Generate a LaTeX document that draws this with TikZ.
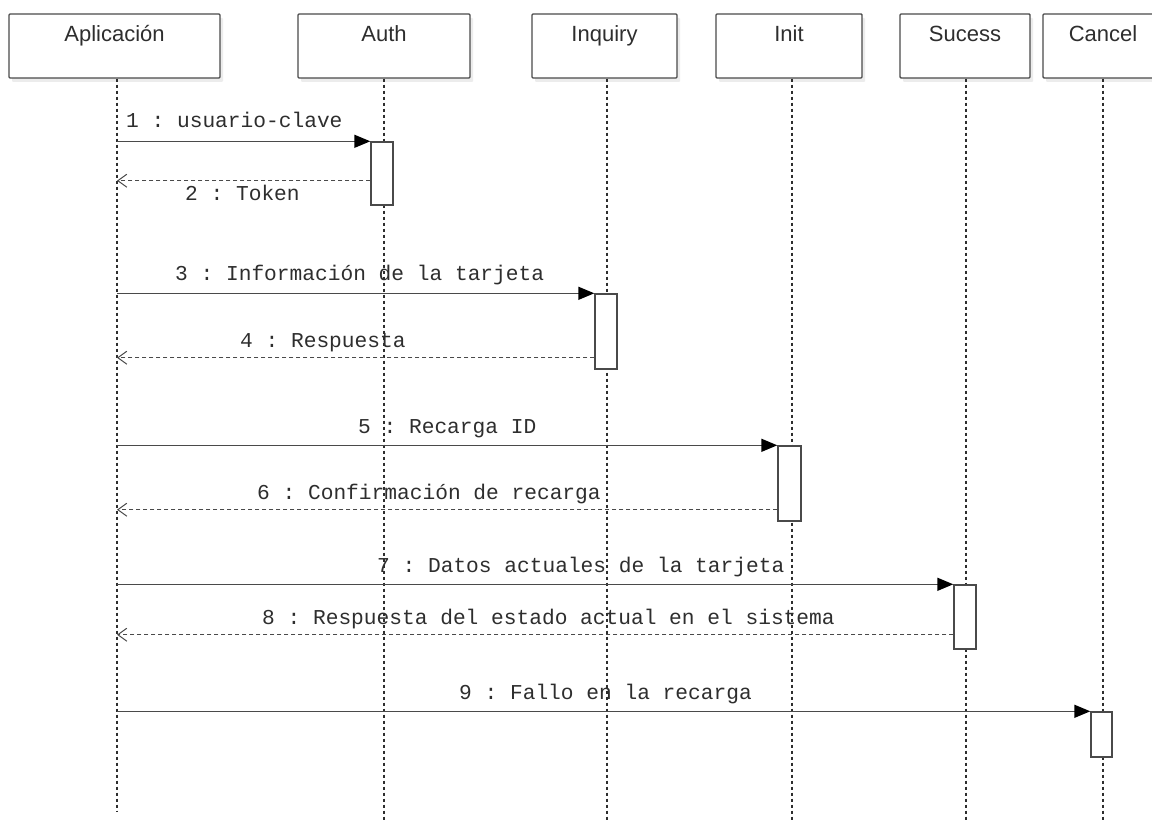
\documentclass[tikz,border=0pt]{standalone}
\usepackage{fontspec}
\setmainfont{Liberation Sans}
\newfontfamily\msgfont{Liberation Mono}
\usetikzlibrary{arrows.meta,shadows,calc}
\definecolor{edge}{HTML}{4A4A4A}
\definecolor{ink}{HTML}{2E2E2E}
\frenchspacing
\begin{document}
\begin{tikzpicture}[x=1pt,y=-1pt,
  head/.style={draw=edge, line width=1.4pt, fill=white, rounded corners=1pt,
    minimum height=64pt, inner sep=0pt,
    drop shadow={shadow xshift=3pt, shadow yshift=-4pt, opacity=0.15}},
  headname/.style={anchor=base, inner sep=0pt, text=ink,
    font=\fontsize{22}{22}\selectfont, yshift=-28pt},
  life/.style={draw=ink, line width=1.2pt, dash pattern=on 3pt off 3pt},
  act/.style={draw=edge, fill=white, line width=1.4pt, inner sep=0pt},
  call/.style={draw=edge, line width=1.5pt,
    -{Triangle[length=16pt, width=13pt, fill=black, color=black]}},
  reply/.style={draw=edge, line width=1.2pt, dash pattern=on 4pt off 3pt,
    -{Straight Barb[length=9pt, width=13pt, line width=1pt]}},
  msglabel/.style={anchor=base west, inner sep=0pt, text=ink,
    font=\msgfont\fontsize{21.2}{21.2}\selectfont}
]
\useasboundingbox (0,0) rectangle (1152,821);
\clip (0,0) rectangle (1152,821);
\fill[white] (0,0) rectangle (1152,821);

% participants
\node[head, minimum width=211pt, label={[headname]north:Aplicación}] (app)  at (114.5,46) {};
\node[head, minimum width=172pt, label={[headname]north:Auth}]       (auth) at (384,46) {};
\node[head, minimum width=145pt, label={[headname]north:Inquiry}]    (inq)  at (604.5,46) {};
\node[head, minimum width=146pt, label={[headname]north:Init}]       (init) at (789,46) {};
\node[head, minimum width=130pt, label={[headname]north:Sucess}]     (suc)  at (965,46) {};
\node[head, minimum width=120pt, label={[headname]north:Cancel}]     (can)  at (1103,46) {};

% lifeline ends
\coordinate (appEnd)  at (117,812);
\coordinate (authEnd) at (384,821);
\coordinate (inqEnd)  at (607,821);
\coordinate (initEnd) at (792,821);
\coordinate (sucEnd)  at (966,821);
\coordinate (canEnd)  at (1103,821);

\draw[life] (app.south -| appEnd)   -- (appEnd);
\draw[life] (auth.south -| authEnd) -- (authEnd);
\draw[life] (inq.south -| inqEnd)   -- (inqEnd);
\draw[life] (init.south -| initEnd) -- (initEnd);
\draw[life] (suc.south -| sucEnd)   -- (sucEnd);
\draw[life] (can.south -| canEnd)   -- (canEnd);

% activation bars
\node[act, minimum width=22pt, minimum height=63pt] (a1) at (382,173.5) {};
\node[act, minimum width=22pt, minimum height=75pt] (a2) at (606,331.5) {};
\node[act, minimum width=23pt, minimum height=75pt] (a3) at (789.5,483.5) {};
\node[act, minimum width=22pt, minimum height=64pt] (a4) at (965,617) {};
\node[act, minimum width=21pt, minimum height=45pt] (a5) at (1101.5,734.5) {};

% reply start points
\coordinate (r2) at ([yshift=25pt]a1.south west);
\coordinate (r4) at ([yshift=12pt]a2.south west);
\coordinate (r6) at ([yshift=12pt]a3.south west);
\coordinate (r8) at ([yshift=15pt]a4.south west);

% messages
\draw[call]  (appEnd |- a1.north west) -- (a1.north west);
\draw[reply] (r2) -- (appEnd |- r2);
\draw[call]  (appEnd |- a2.north west) -- (a2.north west);
\draw[reply] (r4) -- (appEnd |- r4);
\draw[call]  (appEnd |- a3.north west) -- (a3.north west);
\draw[reply] (r6) -- (appEnd |- r6);
\draw[call]  (appEnd |- a4.north west) -- (a4.north west);
\draw[reply] (r8) -- (appEnd |- r8);
\draw[call]  (appEnd |- a5.north west) -- (a5.north west);

% message labels
\node[msglabel] (l1) at (126,128) {1 : usuario-clave};
\node[msglabel] (l2) at (185,201) {2 : Token};
\node[msglabel] (l3) at (175,280) {3 : Información de la tarjeta};
\node[msglabel] (l4) at (240,347) {4 : Respuesta};
\node[msglabel] (l5) at (358,433) {5 : Recarga ID};
\node[msglabel] (l6) at (257,499) {6 : Confirmación de recarga};
\node[msglabel] (l7) at (377,572) {7 : Datos actuales de la tarjeta};
\node[msglabel] (l8) at (262,624) {8 : Respuesta del estado actual en el sistema};
\node[msglabel] (l9) at (459,699) {9 : Fallo en la recarga};
\end{tikzpicture}
\end{document}
